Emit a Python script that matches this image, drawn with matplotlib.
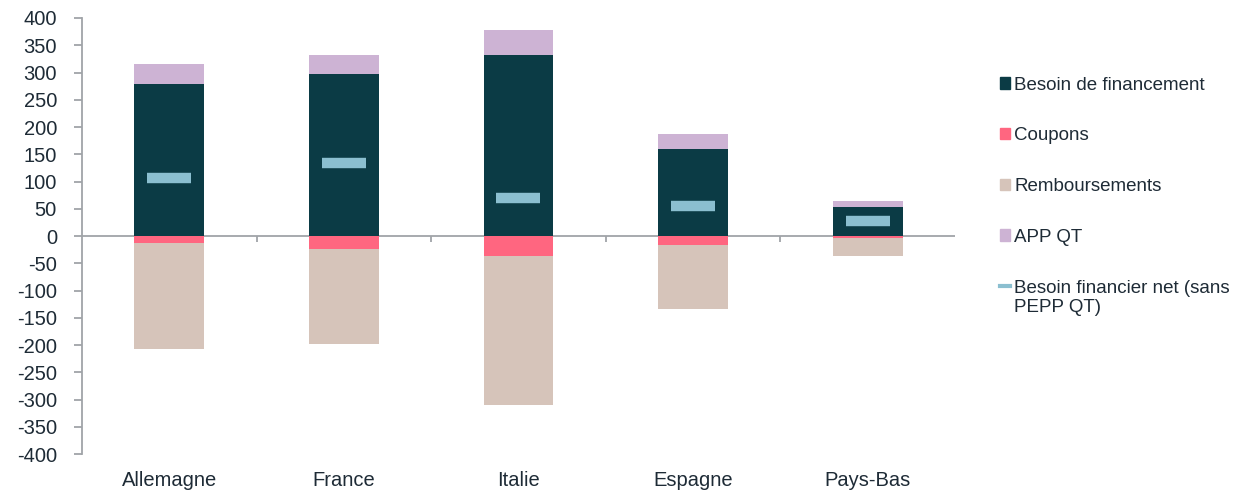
import matplotlib.pyplot as plt
import numpy as np
from matplotlib.patches import Patch
from matplotlib.lines import Line2D

plt.rcParams['font.family'] = ['Liberation Sans', 'DejaVu Sans']
plt.rcParams['axes.unicode_minus'] = False

pays = ['Allemagne', 'France', 'Italie', 'Espagne', 'Pays-Bas']
besoin = [279, 297, 332, 160, 54]
app_qt = [36, 35, 46, 28, 10]
coupons = [-13, -24, -37, -16, -3]
remboursements = [-194, -174, -273, -117, -34]
net = [107, 134, 69, 55, 27]

c_besoin = '#0B3B45'
c_coupons = '#FF6680'
c_remb = '#D6C4BA'
c_app = '#CDB3D4'
c_net = '#8BBFD0'
c_text = '#1E2B36'
c_axis = '#A0A4A8'

fig = plt.figure(figsize=(12.33, 4.93), dpi=100)
ax = fig.add_axes([0.0665, 0.079, 0.708, 0.8845])

x = np.arange(len(pays))
w = 0.4
ax.bar(x, besoin, w, color=c_besoin, zorder=2)
ax.bar(x, app_qt, w, bottom=besoin, color=c_app, zorder=2)
ax.bar(x, coupons, w, color=c_coupons, zorder=2)
ax.bar(x, remboursements, w, bottom=coupons, color=c_remb, zorder=2)
ax.plot(x, net, linestyle='none', marker='_', markersize=32,
        markeredgewidth=7.5, color=c_net, zorder=3)

ax.set_xlim(-0.5, len(pays) - 0.5)
ax.set_ylim(-400, 400)
ax.set_yticks(range(-400, 401, 50))

# axe horizontal a zero avec petites graduations entre les pays
ax.axhline(0, color=c_axis, lw=1.3, zorder=1)
bornes = np.arange(0.5, len(pays) - 0.5, 1)
ax.vlines(bornes, -11, 0, color=c_axis, lw=1.3, zorder=1)

for s in ['top', 'right', 'bottom']:
    ax.spines[s].set_visible(False)
ax.spines['left'].set_color(c_axis)
ax.spines['left'].set_linewidth(1.3)
ax.tick_params(axis='y', colors=c_axis, labelcolor=c_text, labelsize=14.5,
               length=6, width=1.3, pad=12)
ax.set_xticks(x)
ax.set_xticklabels(pays)
ax.tick_params(axis='x', length=0, labelcolor=c_text, labelsize=14.5, pad=12)

handles = [
    Patch(color=c_besoin, label='Besoin de financement'),
    Patch(color=c_coupons, label='Coupons'),
    Patch(color=c_remb, label='Remboursements'),
    Patch(color=c_app, label='APP QT'),
    Line2D([], [], color=c_net, lw=3, label='Besoin financier net (sans'),
]
leg = fig.legend(handles=handles, loc='upper left', bbox_to_anchor=(0.805, 0.86),
                 frameon=False, fontsize=13.5, handlelength=0.55, handleheight=0.55,
                 handletextpad=0.2, labelspacing=1.8, borderaxespad=0)
for t in leg.get_texts():
    t.set_color(c_text)

# suite du dernier libelle sur une deuxieme ligne
fig.canvas.draw()
bb = leg.get_texts()[-1].get_window_extent().transformed(fig.transFigure.inverted())
fig.text(bb.x0, bb.y0 - 0.005, 'PEPP QT)', fontsize=13.5, color=c_text,
         ha='left', va='top')

fig.savefig('out.png', dpi=100)
